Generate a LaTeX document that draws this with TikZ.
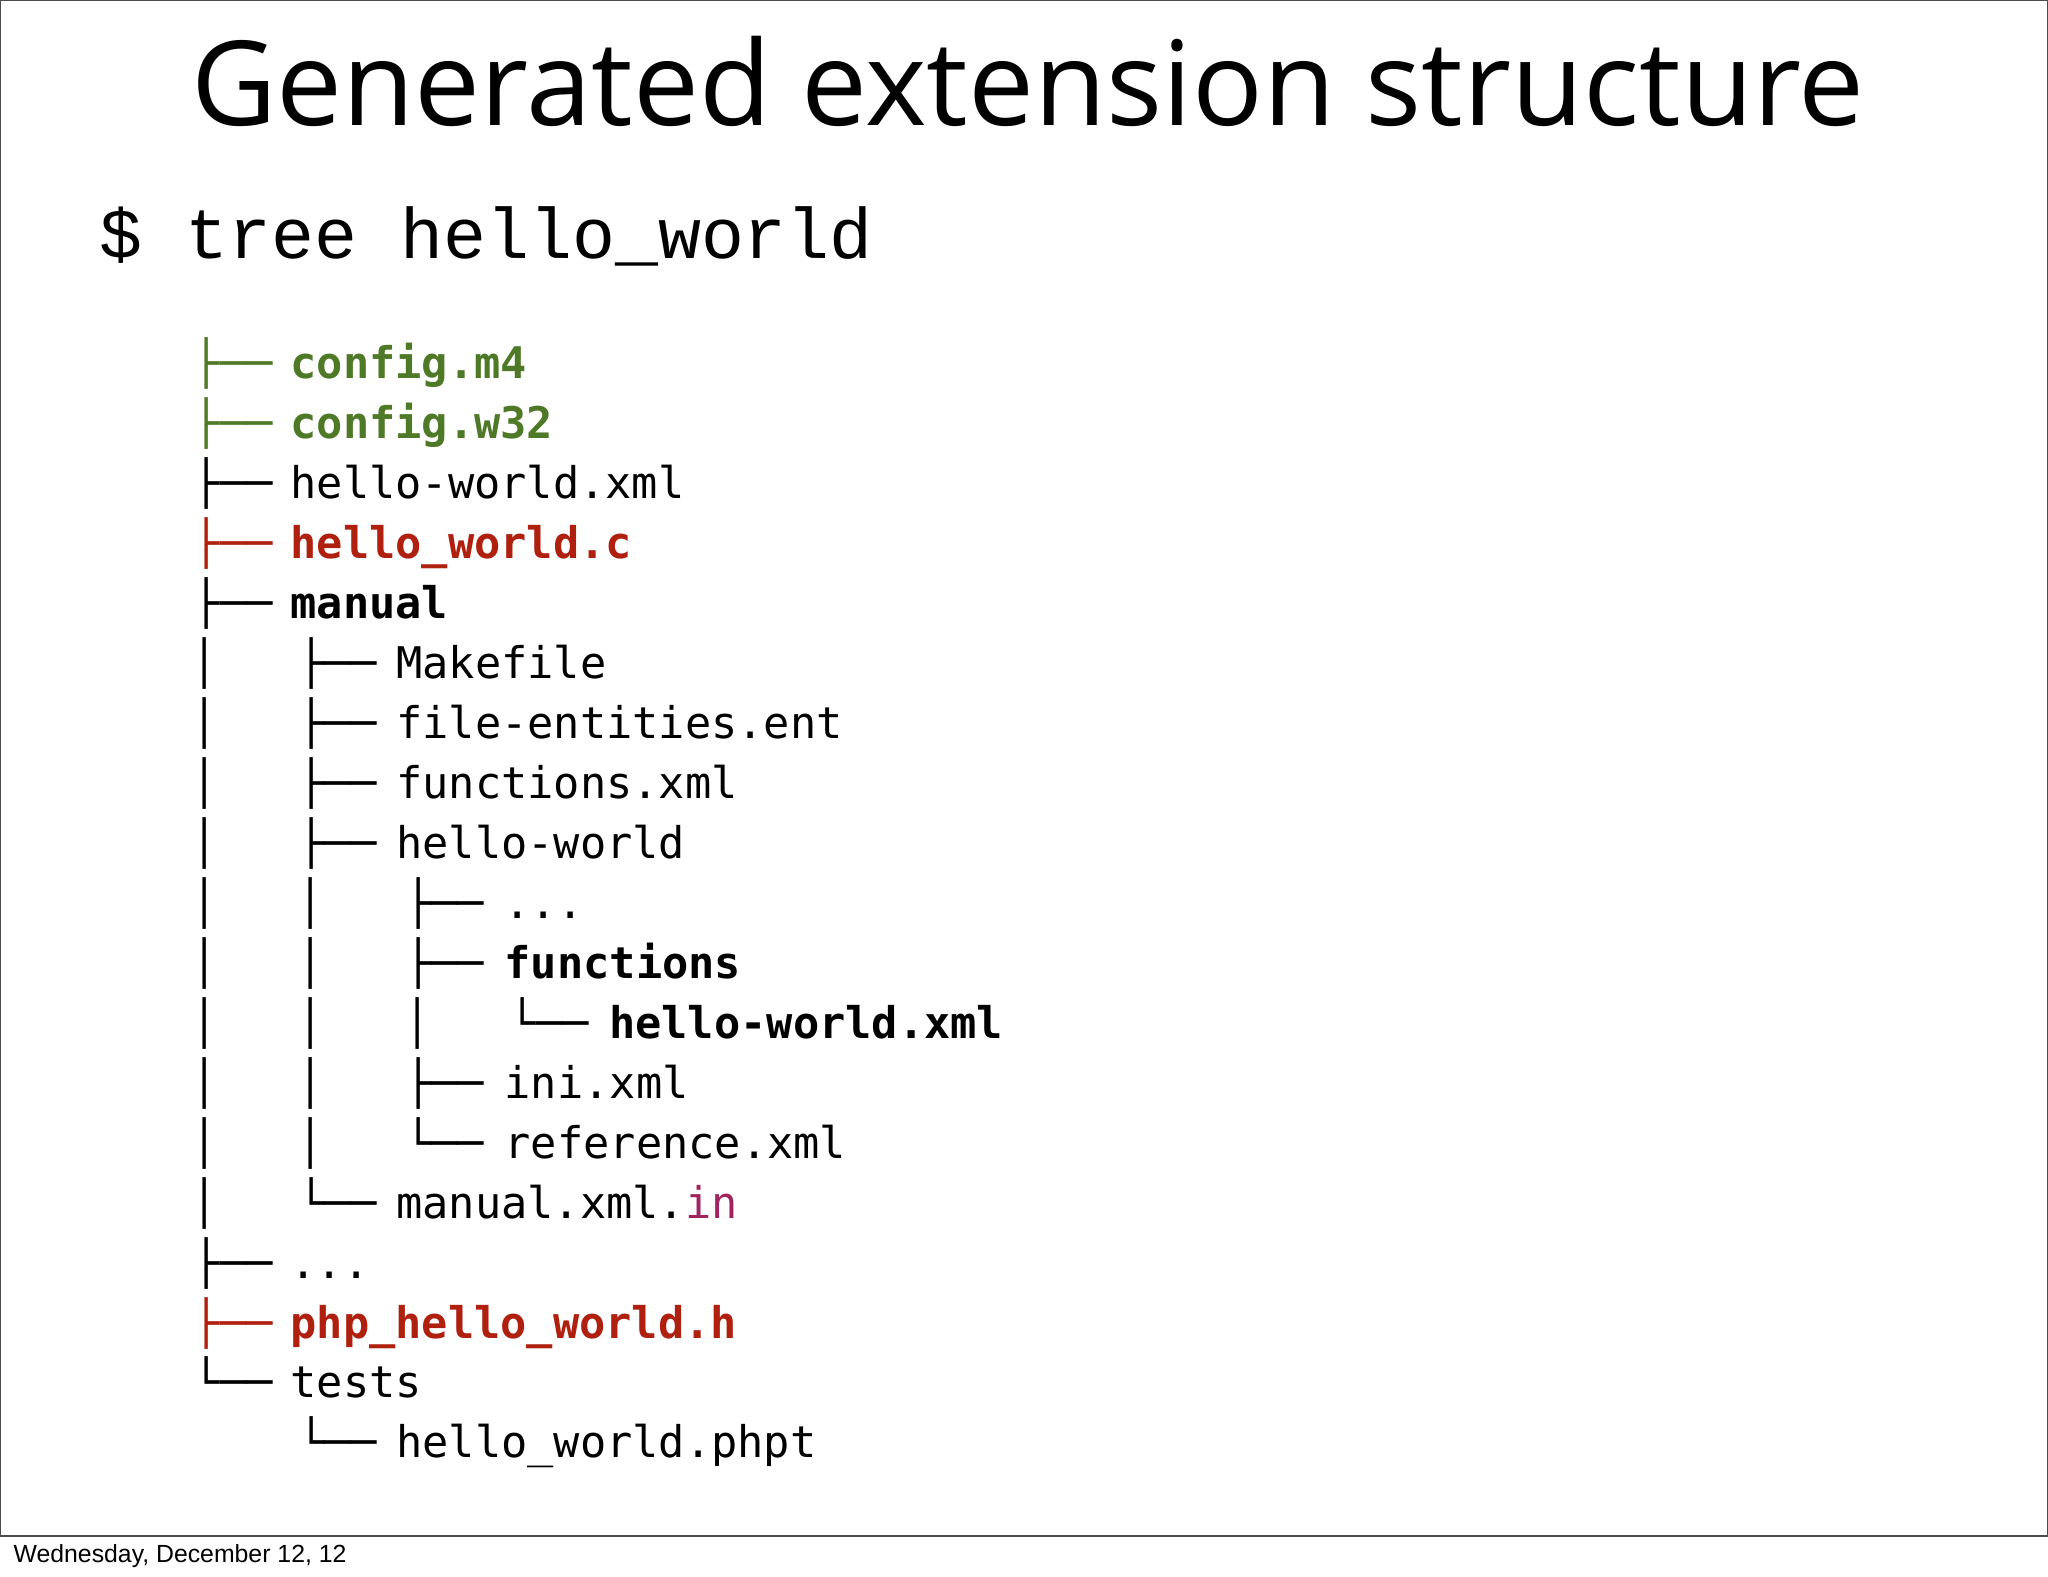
\documentclass[tikz,border=0pt]{standalone}
\usepackage{fontspec}
\setmainfont{Liberation Sans}
\newfontfamily\titlefont{Open Sans}
\newfontfamily\cmdfont{Liberation Mono}
\newfontfamily\treefont{DejaVu Sans Mono}
\definecolor{tgreen}{HTML}{4E7A27}
\definecolor{tred}{HTML}{B0200F}
\definecolor{tpurple}{HTML}{A0245F}
\begin{document}
\begin{tikzpicture}[x=0.5pt,y=-0.5pt,
  tr/.style={anchor=base west,inner sep=0pt,font=\treefont\fontsize{16.7}{20}\selectfont},
  trb/.style={tr,font=\treefont\bfseries\fontsize{16.7}{20}\selectfont}]
\useasboundingbox (0,0) rectangle (1568,1207);
\fill[white] (0,0) rectangle (1568,1207);
\draw[line width=0.6pt,black!70] (0,0) rectangle (1568,1176);
\node[inner sep=0pt] (title) at (787,62) {\titlefont\fontsize{45}{50}\selectfont Generated extension structure};
\node[anchor=base west,inner sep=0pt] (cmd) at (76,198) {\cmdfont\fontsize{27.4}{30}\selectfont \$ tree hello\_world};
\def\Y#1{290+45.9*#1}
% row 0-4 level 0
\node[tr,text=tgreen] (p0) at (148,{\Y{0}}) {├──};
\node[trb,text=tgreen] (n0) at (222,{\Y{0}}) {config.m4};
\node[tr,text=tgreen] (p1) at (148,{\Y{1}}) {├──};
\node[trb,text=tgreen] (n1) at (222,{\Y{1}}) {config.w32};
\node[tr] (p2) at (148,{\Y{2}}) {├──};
\node[tr] (n2) at (222,{\Y{2}}) {hello-world.xml};
\node[tr,text=tred] (p3) at (148,{\Y{3}}) {├──};
\node[trb,text=tred] (n3) at (222,{\Y{3}}) {hello\_world.c};
\node[tr] (p4) at (148,{\Y{4}}) {├──};
\node[trb] (n4) at (222,{\Y{4}}) {manual};
% manual children
\foreach \i in {5,...,14} {\node[tr] (v\i) at (146,{\Y{\i}}) {│};}
\node[tr] (p5) at (228,{\Y{5}}) {├──};
\node[tr] (n5) at (303,{\Y{5}}) {Makefile};
\node[tr] (p6) at (228,{\Y{6}}) {├──};
\node[tr] (n6) at (303,{\Y{6}}) {file-entities.ent};
\node[tr] (p7) at (228,{\Y{7}}) {├──};
\node[tr] (n7) at (303,{\Y{7}}) {functions.xml};
\node[tr] (p8) at (228,{\Y{8}}) {├──};
\node[tr] (n8) at (303,{\Y{8}}) {hello-world};
\foreach \i in {9,...,13} {\node[tr] (w\i) at (227,{\Y{\i}}) {│};}
\node[tr] (p9) at (310,{\Y{9}}) {├──};
\node[tr] (n9) at (386,{\Y{9}}) {...};
\node[tr] (p10) at (310,{\Y{10}}) {├──};
\node[trb] (n10) at (386,{\Y{10}}) {functions};
\node[tr] (u11) at (309,{\Y{11}}) {│};
\node[tr] (p11) at (390,{\Y{11}}) {└──};
\node[trb] (n11) at (466,{\Y{11}}) {hello-world.xml};
\node[tr] (p12) at (310,{\Y{12}}) {├──};
\node[tr] (n12) at (386,{\Y{12}}) {ini.xml};
\node[tr] (p13) at (310,{\Y{13}}) {└──};
\node[tr] (n13) at (386,{\Y{13}}) {reference.xml};
\node[tr] (p14) at (228,{\Y{14}}) {└──};
\node[tr] (n14) at (303,{\Y{14}}) {manual.xml.\textcolor{tpurple}{in}};
\node[tr] (p15) at (148,{\Y{15}}) {├──};
\node[tr] (n15) at (222,{\Y{15}}) {...};
\node[tr,text=tred] (p16) at (148,{\Y{16}}) {├──};
\node[trb,text=tred] (n16) at (222,{\Y{16}}) {php\_hello\_world.h};
\node[tr] (p17) at (148,{\Y{17}}) {└──};
\node[tr] (n17) at (222,{\Y{17}}) {tests};
\node[tr] (p18) at (228,{\Y{18}}) {└──};
\node[tr] (n18) at (303,{\Y{18}}) {hello\_world.phpt};
\node[anchor=base west,inner sep=0pt] (foot) at (10,1196) {\fontsize{9.5}{11}\selectfont Wednesday, December 12, 12};
\end{tikzpicture}
\end{document}
